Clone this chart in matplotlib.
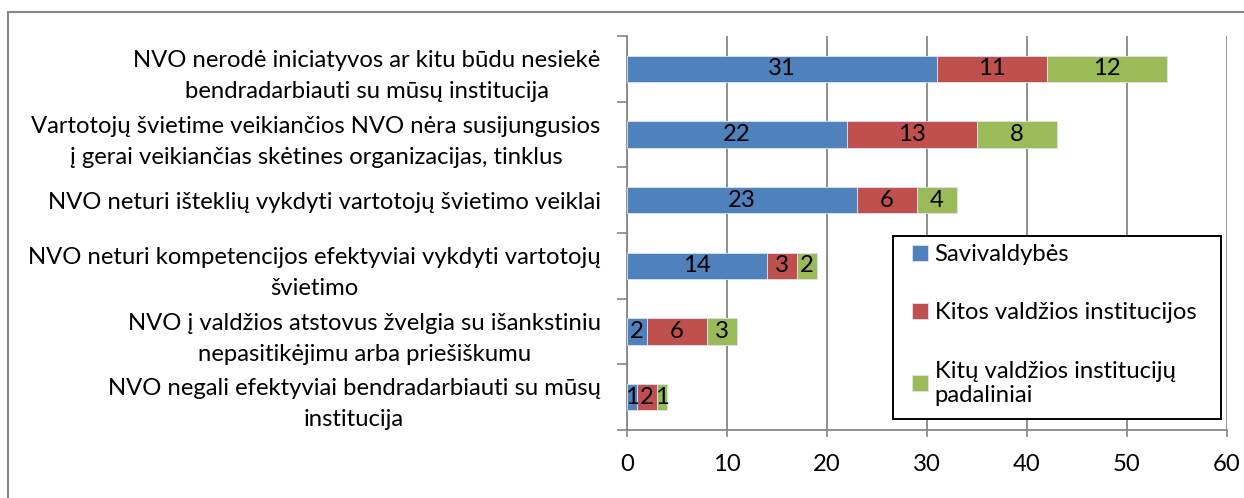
import matplotlib
matplotlib.use("Agg")
import matplotlib.pyplot as plt
import numpy as np
from matplotlib.patches import Rectangle

categories = [
    "NVO nerodė iniciatyvos ar kitu būdu nesiekė\nbendradarbiauti su mūsų institucija",
    "Vartotojų švietime veikiančios NVO nėra susijungusios\nį gerai veikiančias skėtines organizacijas, tinklus",
    "NVO neturi išteklių vykdyti vartotojų švietimo veiklai",
    "NVO neturi kompetencijos efektyviai vykdyti vartotojų\nšvietimo",
    "NVO į valdžios atstovus žvelgia su išankstiniu\nnepasitikėjimu arba priešiškumu",
    "NVO negali efektyviai bendradarbiauti su mūsų\ninstitucija",
]
series_names = ["Savivaldybės", "Kitos valdžios institucijos", "Kitų valdžios institucijų\npadaliniai"]
savivaldybes = [31, 22, 23, 14, 2, 1]
kitos = [11, 13, 6, 3, 6, 2]
padaliniai = [12, 8, 4, 2, 3, 1]
xticks = [0, 10, 20, 30, 40, 50, 60]

colors = ["#4F81BD", "#C0504D", "#9BBB59"]
FONT = "Lato"
FS = 17.2
plt.rcParams['font.family'] = [FONT, 'DejaVu Sans']

fig = plt.figure(figsize=(12.44, 4.98), dpi=100)
W, H = 1244, 498
ax = fig.add_axes([627 / W, 1 - 430 / H, 600 / W, 394 / H])

n = len(categories)
y = np.arange(n)[::-1]
left = np.zeros(n)
for vals, col, name in zip([savivaldybes, kitos, padaliniai], colors, series_names):
    vals = np.array(vals, dtype=float)
    ax.barh(y, vals, left=left, height=0.4, color=col, edgecolor="#dbe5f1",
            linewidth=0.6, label=name, zorder=3)
    for yi, l, v in zip(y, left, vals):
        ax.text(l + v / 2, yi, f"{int(v)}", ha="center", va="center", fontsize=FS,
                color="black", zorder=4)
    left += vals

ax.set_xlim(0, 60)
ax.set_ylim(-0.5, n - 0.5)
ax.set_xticks(xticks)
ax.set_xticklabels([str(t) for t in xticks], fontsize=FS)
ax.tick_params(axis="x", direction="out", length=5, width=1.2, color="#868686", pad=12)
ax.set_yticks(y)
ax.set_yticklabels(categories, fontsize=FS, multialignment="center", linespacing=1.6)
ax.tick_params(axis="y", which="major", length=0, pad=19)
ax.set_yticks(np.arange(-0.5, n, 1.0), minor=True)
ax.tick_params(axis="y", which="minor", direction="out", length=7, width=1.2, color="#868686")
ax.grid(axis="x", color="#868686", linewidth=1.3, zorder=0)
for s in ["top", "right"]:
    ax.spines[s].set_visible(False)
for s in ["left", "bottom"]:
    ax.spines[s].set_color("#868686")
    ax.spines[s].set_linewidth(1.3)

# legend box (white, black border)
ax.add_patch(Rectangle((893 / W, 1 - 419 / H), (1221 - 893) / W, (419 - 236) / H,
                       transform=fig.transFigure, facecolor="white", clip_on=False,
                       edgecolor="black", linewidth=1.4, zorder=9))
leg = ax.legend(loc="upper left", bbox_to_anchor=(912 / W, 1 - 244 / H),
                bbox_transform=fig.transFigure, fontsize=FS, frameon=False,
                handlelength=0.65, handleheight=0.65,
                handletextpad=0.3, labelspacing=1.56, borderpad=0, borderaxespad=0)
leg.set_zorder(10)

fig.patches.append(Rectangle((8 / W, -0.1), 1.2, (1 - 12 / H) + 0.1, transform=fig.transFigure,
                             fill=False, edgecolor="#868686", linewidth=1.5))

fig.savefig("out.png", dpi=100)
